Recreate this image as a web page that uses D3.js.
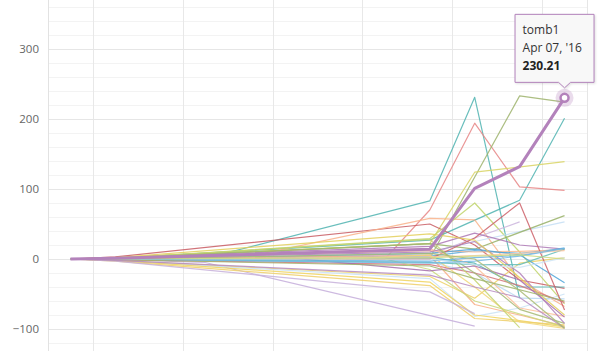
<!DOCTYPE html>
<html>
<head>
<meta charset="utf-8">
<script src="https://cdn.jsdelivr.net/npm/d3@7"></script>
<style>
body{margin:0;background:#fff;}
svg text{font-family:"Open Sans",sans-serif;}
</style>
</head>
<body>
<div id="chart"></div>
<script>
const _ = null

// weekly dates, one per point
var dates = ["2016-01-21","2016-01-28","2016-02-04","2016-02-11","2016-02-18","2016-02-25",
             "2016-03-03","2016-03-10","2016-03-17","2016-03-24","2016-03-31","2016-04-07"]

var yTicks = [-100, 0, 100, 200, 300]

// one array per player, values by week (null = no trade that week)
var names = ["aqua","reef","rosso","moss","sunny","brick","peach","lilac","lime","amber",
  "mauve","frost","fern","plum","sky","apricot","cobalt","lagoon","mist","haze",
  "ruby","cherry","melon","tangerine","lemon","gold","canary","kiwi","chart","sage",
  "violet","grape","iris","azure","tealy","sand","straw","pine","dusk","ice",
  "pool","citrus","olivia","tomb1"]

var values = [
  [0, 0, _, 1, _, _, _, _, 83, 231, -56, _],
  [0, 1, _, _, _, _, _, _, 27, _, 84, 201],
  [0, 0, _, _, _, _, _, 0, 70, 194, 103, 98],
  [0, 0, _, _, _, _, _, _, 1, _, 233, 224],
  [0, 2, _, _, _, _, _, _, 22, 124, _, 139],
  [0, 3, _, _, _, _, _, _, 50, 20, -30, -42],
  [0, 0, _, _, 4, _, _, _, 58, 56, -30, -68],
  [0, -1, _, -5, _, _, _, _, _, -96, _, _],
  [0, 1, _, _, _, _, _, _, 29, 80, 10, -64],
  [0, -2, _, _, _, _, _, _, -25, -56, -6, 2],
  [0, 0, _, _, _, _, _, _, 6, 30, 53, _],
  [0, 1, _, _, _, _, _, _, 10, 25, _, 53],
  [0, 1, _, _, _, _, _, _, 22, 14, _, 62],
  [0, 2, _, _, _, _, _, _, 18, 37, 20, 14],
  [0, 0, _, _, _, _, _, _, 4, 12, 8, 15],
  [0, 1, _, _, _, _, _, _, 12, 10, 11, 13],
  [0, -1, _, _, _, _, _, _, 8, 14, 6, -34],
  [0, 0, _, _, _, _, _, _, 2, -6, -40, -40],
  [0, -1, _, _, _, _, _, _, -4, -20, -56, -57],
  [0, -2, _, _, _, _, _, _, -28, -82, -70, -50],
  [0, 0, _, _, _, _, _, _, 0, 30, 80, -73],
  [0, -1, _, _, _, _, _, _, -8, -20, -38, -62],
  [0, 0, _, _, _, _, _, _, 5, -65, -80, -96],
  [0, 1, _, _, _, _, _, _, 15, -10, -70, -82],
  [0, -2, _, _, _, _, _, _, -33, -80, -88, -97],
  [0, -3, _, _, _, _, _, _, -38, -85, _, -94],
  [0, 0, _, _, _, _, 0, _, 6, -40, -90, -99],
  [0, 1, _, _, _, _, _, _, 28, -30, -98, _],
  [0, 0, _, _, _, _, _, 0, -15, -60, _, -97],
  [0, 1, _, _, _, _, _, _, 22, -20, -72, -92],
  [0, -1, _, _, _, 1, _, _, -17, -10, -30, -83],
  [0, 1, _, _, _, _, _, _, 10, 25, -20, -92],
  [0, -3, _, _, _, _, _, _, -47, -78, _, _],
  [0, 0, _, _, _, _, _, _, -3, 2, 5, 16],
  [0, 0, _, _, _, _, _, _, -5, -8, -8, 14],
  [0, 0, _, _, _, _, _, _, 3, 5, 8, 12],
  [0, 2, _, _, _, _, _, _, 36, 27, _, -80],
  [0, -1, _, _, _, _, _, _, -10, -28, _, -60],
  [0, -2, _, _, _, _, _, _, -23, -40, -55, -99],
  [0, 0, _, _, _, _, _, _, 0, -8, -12, 2],
  [0, 0, _, _, _, _, _, _, -6, -3, 4, 15],
  [0, 0, _, _, _, _, _, _, 2, 4, 6, 0],
  [0, 0, _, _, _, _, _, _, 8, 0, -45, -99],
  [0, 1, _, _, _, _, _, _, 14, 101, 132, 230.21]
]

var selected = "tomb1"

// colours per player
var colorOf = {
  aqua:"#4fb3b0", reef:"#4fb3b0", lagoon:"#4fb3b0", tealy:"#62bcb8",
  rosso:"#e68585", brick:"#c85a62", ruby:"#cc6068", cherry:"#d2737a",
  peach:"#f9b189", apricot:"#fbb88f", melon:"#f8ae86", tangerine:"#fbbf9a", sand:"#fdc9a4",
  sunny:"#d8d463", amber:"#ecd064", lemon:"#f0d35e", gold:"#efcf6a", canary:"#f2d778", straw:"#e3cf5a",
  lime:"#bfd36b", kiwi:"#c4d46e", chart:"#c9d77a", citrus:"#cddb82",
  moss:"#9db36c", fern:"#98b066", sage:"#a4b872", pine:"#9fb46a", olivia:"#a9bb76",
  plum:"#ad78b5", violet:"#a56fae", grape:"#b27fba", dusk:"#b58ac0",
  lilac:"#c4addb", mauve:"#cbb5dd", iris:"#c7b0da",
  sky:"#5aaadc", cobalt:"#4ea3d8", azure:"#69b3e2", pool:"#74b8e3",
  frost:"#c4def4", mist:"#b8d8f1", haze:"#c9e2f6", ice:"#cfe5f6",
  tomb1:"#b382bb"
}

var width = 601, height = 351

var svg = d3.select("#chart")
  .append("svg")
  .attr("width", width)
  .attr("height", height)

var x = d3.scaleLinear()
    .domain([-0.5, dates.length - 0.5])
    .range([48, 587])
var y = d3.scaleLinear()
    .domain([-100, 300])
    .range([329, 49])

var parseDate = d3.timeParse("%Y-%m-%d")
var fmtDate = d3.timeFormat("%b %d, '%y")

// minor grid every 20
var minor = d3.range(-120, 381, 20).filter(function(v){ return v % 100 != 0 })
svg.append("g")
  .selectAll("line")
  .data(minor)
  .enter()
  .append("line")
  .attr("x1", 48).attr("x2", 587)
  .attr("y1", function(d){ return y(d) + 0.5 })
  .attr("y2", function(d){ return y(d) + 0.5 })
  .attr("stroke", "#f3f3f3")

// vertical grid, every second week
var vgrid = d3.range(0.5, dates.length, 2)
svg.append("g")
  .selectAll("line")
  .data(vgrid)
  .enter()
  .append("line")
  .attr("x1", function(d){ return Math.round(x(d)) + 0.5 })
  .attr("x2", function(d){ return Math.round(x(d)) + 0.5 })
  .attr("y1", 0).attr("y2", height)
  .attr("stroke", "#e8e8e8")
svg.append("line")
  .attr("x1", 587.5).attr("x2", 587.5)
  .attr("y1", 0).attr("y2", height)
  .attr("stroke", "#e6e6e6")

// y axis with major grid
var yAxis = svg.append("g")
  .attr("transform", "translate(48,0)")
  .call(d3.axisLeft(y).tickValues(yTicks).tickSize(5).tickPadding(4).tickFormat(d3.format("d")))
yAxis.select(".domain").remove()
yAxis.selectAll(".tick line").attr("stroke", "#e6e6e6").attr("x2", 539)
yAxis.selectAll(".tick text")
  .attr("fill", "#666")
  .style("font-size", "11.5px")
svg.append("line")
  .attr("x1", 48.5).attr("x2", 48.5)
  .attr("y1", 0).attr("y2", height)
  .attr("stroke", "#e2e2e2")

var series = names.map(function(n, i){
  var pts = []
  values[i].forEach(function(v, j){
    if(v != null) pts.push({i: j, v: v})
  })
  return {name: n, pts: pts}
})

var line = d3.line()
  .x(function(d){ return x(d.i) })
  .y(function(d){ return y(d.v) })

svg.append("g")
  .selectAll("path")
  .data(series.filter(function(s){ return s.name != selected }))
  .enter()
  .append("path")
  .attr("d", function(d){ return line(d.pts) })
  .attr("fill", "none")
  .attr("stroke", function(d){ return colorOf[d.name] })
  .attr("stroke-width", 1.2)
  .attr("stroke-opacity", 0.85)
  .attr("stroke-linejoin", "round")

// highlighted player
var sel = series.filter(function(s){ return s.name == selected })[0]
var selColor = colorOf[selected]
svg.append("path")
  .attr("d", line(sel.pts))
  .attr("fill", "none")
  .attr("stroke", selColor)
  .attr("stroke-width", 3)
  .attr("stroke-linejoin", "round")

var last = sel.pts[sel.pts.length - 1]
var px = x(last.i), py = y(last.v)
svg.append("circle")
  .attr("cx", px).attr("cy", py).attr("r", 9)
  .attr("fill", selColor).attr("fill-opacity", 0.28)
svg.append("circle")
  .attr("cx", px).attr("cy", py).attr("r", 4)
  .attr("fill", "#fff")
  .attr("stroke", selColor).attr("stroke-width", 2.5)

// tooltip
var tw = 80, th = 69
var tx = px - 50, ty = py - 84
var tip = svg.append("g").attr("transform", "translate(" + tx + "," + ty + ")")
var ax = px - tx
tip.append("path")
  .attr("d", "M0.5,0.5 H" + (tw - 0.5) + " V" + (th - 0.5) + " H" + (ax + 6) +
             " L" + ax + "," + (th + 5) + " L" + (ax - 6) + "," + (th - 0.5) + " H0.5 Z")
  .attr("fill", "#f8f8f8")
  .attr("stroke", selColor)
  .attr("stroke-width", 1)
  .style("filter", "drop-shadow(1px 1px 1px rgba(0,0,0,0.12))")
tip.append("text")
  .attr("x", 8).attr("y", 20)
  .attr("fill", "#333")
  .style("font-size", "12px")
  .text(selected)
tip.append("text")
  .attr("x", 8).attr("y", 38)
  .attr("fill", "#333")
  .style("font-size", "12px")
  .text(fmtDate(parseDate(dates[last.i])))
tip.append("text")
  .attr("x", 8).attr("y", 56)
  .attr("fill", "#222")
  .style("font-size", "12px")
  .style("font-weight", "bold")
  .text(d3.format(".2f")(last.v))
</script>
</body>
</html>
